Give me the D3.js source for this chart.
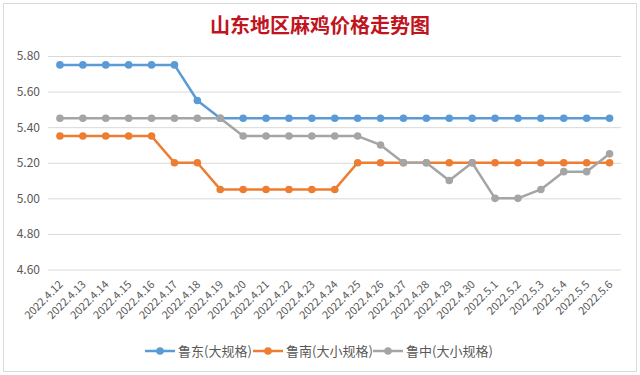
<!DOCTYPE html>
<html><head><meta charset="utf-8">
<script src="https://cdn.jsdelivr.net/npm/d3@7"></script>
<style>html,body{margin:0;padding:0;background:#fff;}svg{display:block;}</style>
</head><body>
<script>
const title = "山东地区麻鸡价格走势图";
const categories = ["2022.4.12","2022.4.13","2022.4.14","2022.4.15","2022.4.16","2022.4.17","2022.4.18","2022.4.19","2022.4.20","2022.4.21","2022.4.22","2022.4.23","2022.4.24","2022.4.25","2022.4.26","2022.4.27","2022.4.28","2022.4.29","2022.4.30","2022.5.1","2022.5.2","2022.5.3","2022.5.4","2022.5.5","2022.5.6"];
const seriesNames = ["鲁东(大规格)","鲁南(大小规格)","鲁中(大小规格)"];
const ludong = [5.75,5.75,5.75,5.75,5.75,5.75,5.55,5.45,5.45,5.45,5.45,5.45,5.45,5.45,5.45,5.45,5.45,5.45,5.45,5.45,5.45,5.45,5.45,5.45,5.45];
const lunan  = [5.35,5.35,5.35,5.35,5.35,5.20,5.20,5.05,5.05,5.05,5.05,5.05,5.05,5.20,5.20,5.20,5.20,5.20,5.20,5.20,5.20,5.20,5.20,5.20,5.20];
const luzhong= [5.45,5.45,5.45,5.45,5.45,5.45,5.45,5.45,5.35,5.35,5.35,5.35,5.35,5.35,5.30,5.20,5.20,5.10,5.20,5.00,5.00,5.05,5.15,5.15,5.25];
const yTicks = [4.60,4.80,5.00,5.20,5.40,5.60,5.80];
const colors = ["#5b9bd5","#ed7d31","#a5a5a5"];
const seriesValues = [ludong, lunan, luzhong];

const W = 640, H = 375;
const svg = d3.select("body").append("svg").attr("width", W).attr("height", H);
const font = "'Noto Sans CJK SC','Noto Sans',sans-serif";

svg.append("rect").attr("x",0).attr("y",0).attr("width",W).attr("height",H).attr("fill","#fff");
svg.append("rect").attr("x",3.5).attr("y",3.5).attr("width",633).attr("height",368)
  .attr("fill","#fff").attr("stroke","#d9d9d9");

svg.append("text").attr("x",320).attr("y",33).attr("text-anchor","middle")
  .attr("font-family",font).attr("font-weight","bold").attr("font-size",20)
  .attr("fill","#c0141e").text(title);

const x = d3.scaleBand().domain(categories).range([48.5,621]);
const y = d3.scaleLinear().domain([4.6,5.8]).range([269.5,56]);

const gy = svg.append("g").attr("transform","translate(48,0)")
  .call(d3.axisLeft(y).tickValues(yTicks).tickFormat(d3.format(".2f")).tickSize(-573).tickPadding(8));
gy.select(".domain").remove();
gy.selectAll(".tick line").attr("stroke","#d9d9d9");
gy.selectAll(".tick text").attr("font-family",font).attr("font-size",12).attr("fill","#595959");

const gx = svg.append("g").attr("transform","translate(0,269.5)")
  .call(d3.axisBottom(x).tickSize(0));
gx.select(".domain").remove();
gx.selectAll(".tick text").attr("font-family",font).attr("font-size",11).attr("fill","#595959")
  .attr("text-anchor","end").attr("dy","0.35em")
  .attr("transform","translate(1,13) rotate(-45)").attr("x",0).attr("y",0);

const line = d3.line().x((d,i)=>x(categories[i])+x.bandwidth()/2).y(d=>y(d));
seriesValues.forEach((vals,k)=>{
  const g = svg.append("g");
  g.append("path").datum(vals).attr("d",line).attr("fill","none")
    .attr("stroke",colors[k]).attr("stroke-width",2.5).attr("stroke-linejoin","round");
  g.selectAll("circle").data(vals).join("circle")
    .attr("cx",(d,i)=>x(categories[i])+x.bandwidth()/2).attr("cy",d=>y(d))
    .attr("r",3.8).attr("fill",colors[k]);
});

// legend
const legX = [145, 253, 373];
seriesNames.forEach((n,k)=>{
  const g = svg.append("g").attr("transform",`translate(${legX[k]},351)`);
  g.append("line").attr("x1",0).attr("x2",30).attr("y1",0).attr("y2",0)
    .attr("stroke",colors[k]).attr("stroke-width",2.5);
  g.append("circle").attr("cx",15).attr("cy",0).attr("r",3.8).attr("fill",colors[k]);
  g.append("text").attr("x",33).attr("y",0).attr("dy","0.35em")
    .attr("font-family",font).attr("font-size",13).attr("fill","#595959").text(n);
});
</script>
</body></html>
